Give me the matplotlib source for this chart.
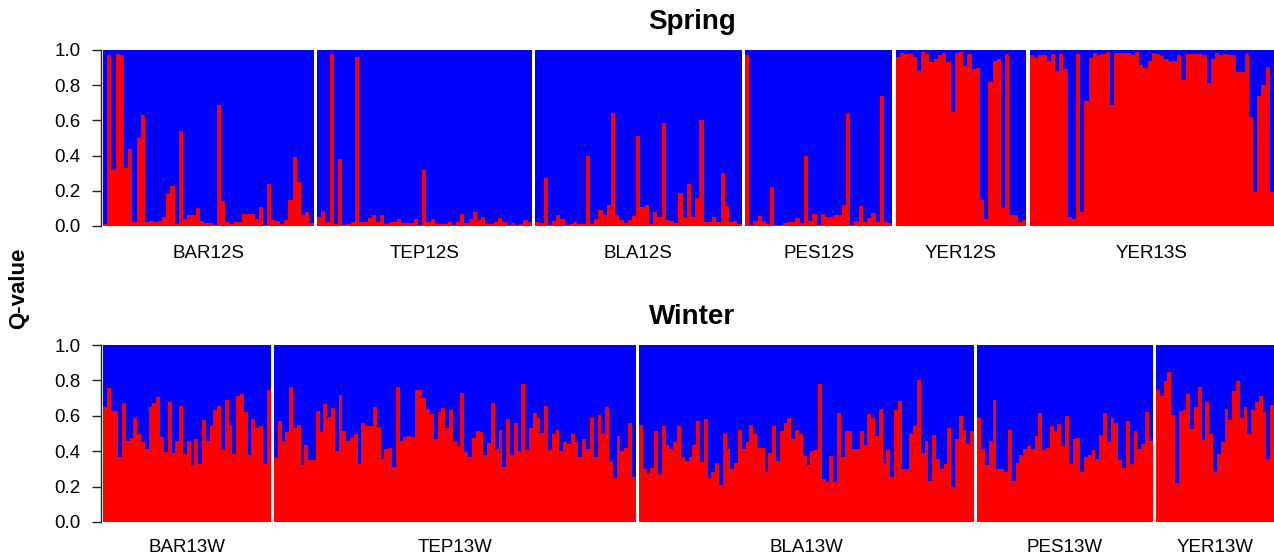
import numpy as np
import matplotlib
matplotlib.use("Agg")
import matplotlib.pyplot as plt
from matplotlib import transforms

plt.rcParams['font.family'] = ['Liberation Sans', 'DejaVu Sans']

# ---------------- data: Q-value of cluster 1 (red) per individual ----------------
spring_names = ["BAR12S", "TEP12S", "BLA12S", "PES12S", "YER12S", "YER13S"]
bar12s = [0.01, 0.97, 0.32, 0.98, 0.97, 0.33, 0.44, 0.02, 0.50, 0.63, 0.02, 0.03, 0.02, 0.03, 0.05,
          0.18, 0.23, 0.01, 0.54, 0.04, 0.06, 0.06, 0.10, 0.03, 0.015, 0.015, 0.005, 0.69, 0.14, 0.02,
          0.01, 0.02, 0.02, 0.07, 0.07, 0.07, 0.04, 0.11, 0.005, 0.24, 0.035, 0.03, 0.01, 0.035, 0.15,
          0.39, 0.25, 0.06, 0.08, 0.015]
tep12s = [0.05, 0.085, 0.025, 0.98, 0.01, 0.38, 0.005, 0.01, 0.02, 0.96, 0.02, 0.02, 0.045, 0.06, 0.02,
          0.06, 0.01, 0.02, 0.02, 0.04, 0.015, 0.015, 0.015, 0.04, 0.005, 0.32, 0.025, 0.04, 0.01, 0.01,
          0.01, 0.02, 0.005, 0.02, 0.07, 0.015, 0.04, 0.08, 0.035, 0.05, 0.01, 0.01, 0.025, 0.045, 0.02,
          0.005, 0.015, 0.005, 0.01, 0.035, 0.02]
bla12s = [0.025, 0.015, 0.27, 0.005, 0.03, 0.06, 0.04, 0.005, 0.01, 0.02, 0.01, 0.01, 0.40, 0.01, 0.04,
          0.09, 0.065, 0.12, 0.64, 0.06, 0.035, 0.015, 0.035, 0.055, 0.51, 0.11, 0.12, 0.01, 0.08, 0.05,
          0.585, 0.035, 0.03, 0.015, 0.19, 0.045, 0.24, 0.05, 0.16, 0.60, 0.02, 0.02, 0.05, 0.02, 0.30,
          0.115, 0.025, 0.03, 0.01]
pes12s = [0.97, 0.005, 0.03, 0.055, 0.03, 0.01, 0.22, 0.005, 0.005, 0.015, 0.02, 0.025, 0.045, 0.015,
          0.40, 0.03, 0.07, 0.005, 0.07, 0.05, 0.05, 0.06, 0.06, 0.12, 0.635, 0.005, 0.03, 0.115, 0.02,
          0.045, 0.075, 0.02, 0.74, 0.02, 0.015]
yer12s = [0.96, 0.985, 0.98, 0.98, 0.96, 0.88, 0.99, 0.98, 0.93, 0.95, 0.97, 0.985, 0.93, 0.65, 0.985,
          0.99, 0.91, 0.98, 0.89, 0.90, 0.15, 0.04, 0.82, 0.94, 0.95, 0.10, 0.975, 0.065, 0.065, 0.02,
          0.035]
yer13s = [0.97, 0.955, 0.97, 0.97, 0.935, 0.98, 0.88, 0.98, 0.89, 0.05, 0.04, 0.98, 0.08, 0.71, 0.955,
          0.985, 0.97, 0.98, 0.99, 0.69, 0.985, 0.985, 0.985, 0.985, 0.97, 0.99, 0.915, 0.90, 0.94, 0.985,
          0.98, 0.965, 0.95, 0.935, 0.94, 0.97, 0.83, 0.98, 0.98, 0.98, 0.98, 0.97, 0.815, 0.95, 0.985,
          0.97, 0.98, 0.97, 0.97, 0.875, 0.875, 0.98, 0.62, 0.195, 0.74, 0.80, 0.905, 0.195]

winter_names = ["BAR13W", "TEP13W", "BLA13W", "PES13W", "YER13W"]
bar13w = [0.65, 0.755, 0.625, 0.625, 0.37, 0.67, 0.455, 0.475, 0.585, 0.495, 0.45, 0.415, 0.65, 0.67,
          0.705, 0.48, 0.395, 0.68, 0.39, 0.455, 0.655, 0.385, 0.455, 0.315, 0.47, 0.325, 0.575, 0.455,
          0.54, 0.63, 0.655, 0.405, 0.69, 0.545, 0.385, 0.71, 0.725, 0.62, 0.38, 0.58, 0.53, 0.54, 0.325,
          0.745]
tep13w = [0.36, 0.57, 0.455, 0.51, 0.76, 0.53, 0.55, 0.32, 0.435, 0.35, 0.35, 0.625, 0.51, 0.665, 0.595,
          0.645, 0.40, 0.715, 0.515, 0.46, 0.475, 0.495, 0.33, 0.56, 0.54, 0.54, 0.65, 0.535, 0.355, 0.415,
          0.42, 0.31, 0.76, 0.46, 0.48, 0.485, 0.48, 0.745, 0.745, 0.70, 0.64, 0.61, 0.47, 0.62, 0.645,
          0.53, 0.63, 0.45, 0.43, 0.73, 0.395, 0.37, 0.475, 0.515, 0.51, 0.38, 0.445, 0.67, 0.415, 0.52,
          0.31, 0.58, 0.38, 0.56, 0.40, 0.78, 0.405, 0.53, 0.615, 0.585, 0.505, 0.655, 0.405, 0.495, 0.52,
          0.40, 0.45, 0.44, 0.50, 0.45, 0.37, 0.47, 0.415, 0.585, 0.365, 0.605, 0.50, 0.65, 0.345, 0.25,
          0.485, 0.40, 0.42, 0.56, 0.255]
bla13w = [0.55, 0.30, 0.27, 0.305, 0.515, 0.27, 0.545, 0.435, 0.415, 0.45, 0.545, 0.365,
          0.345, 0.37, 0.435, 0.57, 0.34, 0.58, 0.25, 0.28, 0.335, 0.21, 0.50, 0.41, 0.30, 0.335, 0.52,
          0.415, 0.45, 0.55, 0.495, 0.42, 0.42, 0.285, 0.39, 0.545, 0.345, 0.515, 0.56, 0.59, 0.47, 0.52,
          0.495, 0.375, 0.32, 0.40, 0.405, 0.78, 0.245, 0.225, 0.375, 0.225, 0.615, 0.37, 0.515, 0.515,
          0.415, 0.41, 0.515, 0.435, 0.61, 0.59, 0.485, 0.64, 0.335, 0.405, 0.255, 0.63, 0.685, 0.30,
          0.30, 0.495, 0.545, 0.805, 0.39, 0.455, 0.23, 0.49, 0.355, 0.30, 0.325, 0.53, 0.195, 0.47,
          0.60, 0.52, 0.44, 0.515]
pes13w = [0.585, 0.41, 0.32, 0.46, 0.69, 0.30, 0.30, 0.28, 0.52, 0.23, 0.335, 0.38, 0.415, 0.43, 0.41,
          0.485, 0.615, 0.405, 0.42, 0.54, 0.515, 0.555, 0.43, 0.60, 0.325, 0.47, 0.475, 0.285, 0.365,
          0.38, 0.405, 0.355, 0.49, 0.615, 0.45, 0.585, 0.56, 0.35, 0.305, 0.57, 0.325, 0.515, 0.41, 0.44,
          0.62, 0.46]
yer13w = [0.745, 0.71, 0.795, 0.845, 0.605, 0.22, 0.625, 0.635, 0.725, 0.525, 0.65, 0.765, 0.465, 0.68,
          0.495, 0.285, 0.385, 0.45, 0.64, 0.575, 0.74, 0.795, 0.585, 0.65, 0.495, 0.635, 0.68, 0.71,
          0.62, 0.355, 0.66]

yticks = [0.0, 0.2, 0.4, 0.6, 0.8, 1.0]
ytick_labels = ["0.0", "0.2", "0.4", "0.6", "0.8", "1.0"]

RED = "#FF0000"
BLUE = "#0000FF"

W, H = 1274, 559
fig = plt.figure(figsize=(W / 100, H / 100), dpi=100)


def panel(top_px, bottom_px, groups, names, gap, title, title_base_px, label_px):
    ax = fig.add_axes([101 / W, 1 - bottom_px / H, (W - 101) / W, (bottom_px - top_px) / H])
    x = 0.0
    centers = []
    for vals in groups:
        v = np.asarray(vals, dtype=float)
        xs = x + np.arange(len(v)) + 0.5
        # blue (cluster 2) fills the rest of each individual's bar
        ax.bar(xs, 1 - v, bottom=v, width=1.0, color=BLUE, linewidth=0,
               antialiased=False, zorder=1)
        # red (cluster 1)
        ax.bar(xs, v, width=1.0, color=RED, linewidth=0, antialiased=False, zorder=2)
        centers.append(x + len(v) / 2)
        x += len(v) + gap
    total = x - gap
    a = 2.0 * total / (W - 103)
    ax.set_xlim(-a, total)
    ax.set_ylim(0, 1)
    for s in ["top", "right", "bottom"]:
        ax.spines[s].set_visible(False)
    ax.spines["left"].set_bounds(0, 1)
    ax.spines["left"].set_linewidth(1.0)
    ax.spines["left"].set_color("#222222")
    ax.set_xticks([])
    ax.set_yticks(yticks)
    ax.set_yticklabels(ytick_labels)
    ax.tick_params(axis="y", length=6.5, width=1.0, color="#222222", labelsize=13.5, pad=8)
    tr = transforms.blended_transform_factory(ax.transData, fig.transFigure)
    for c, n in zip(centers, names):
        ax.text(c, 1 - label_px / H, n, transform=tr, ha="center", va="center", fontsize=13.5)
    fig.text(692 / W, 1 - title_base_px / H, title, ha="center", va="baseline",
             fontsize=20, fontweight="bold")
    return ax


panel(50, 226, [bar12s, tep12s, bla12s, pes12s, yer12s, yer13s], spring_names, 0.8,
      "Spring", 29, 253)
panel(345, 522, [bar13w, tep13w, bla13w, pes13w, yer13w], winter_names, 0.9,
      "Winter", 324, 547)

fig.text(19 / W, 1 - 288 / H, "Q-value", rotation=90, ha="center", va="center",
         fontsize=16, fontweight="bold")

fig.savefig("out.png", dpi=100)
